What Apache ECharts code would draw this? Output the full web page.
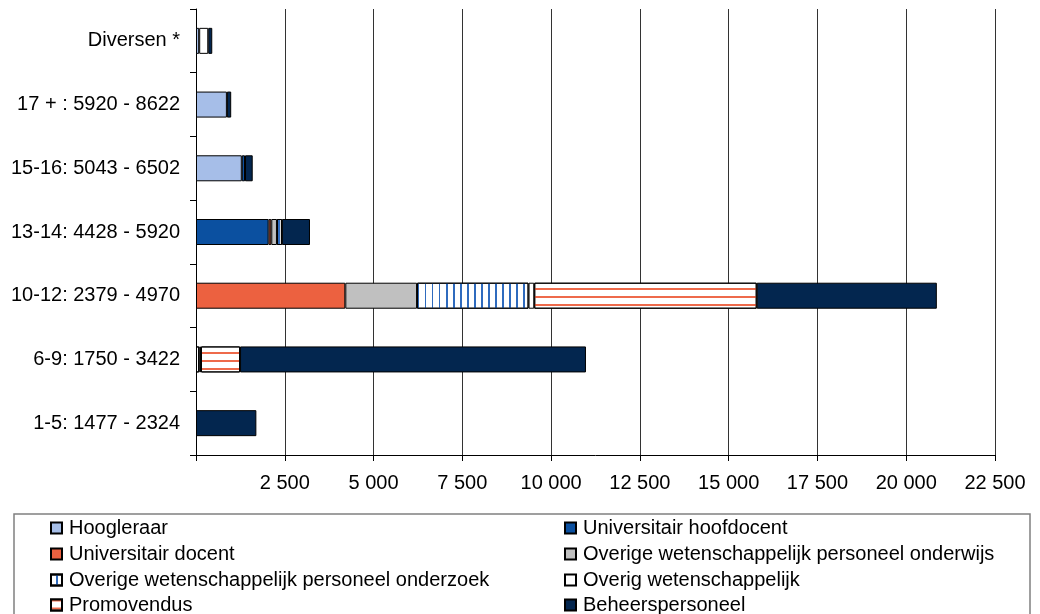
<!DOCTYPE html>
<html>
<head>
<meta charset="utf-8">
<script src="https://cdn.jsdelivr.net/npm/echarts@6/dist/echarts.min.js"></script>
<style>
html,body{margin:0;padding:0;background:#fff;}
#chart{width:1040px;height:614px;}
</style>
</head>
<body>
<div id="chart"></div>
<script>
// Categories (top to bottom as shown)
const categories = ['Diversen *', '17 + : 5920 - 8622', '15-16: 5043 - 6502', '13-14: 4428 - 5920', '10-12: 2379 - 4970', '6-9: 1750 - 3422', '1-5: 1477 - 2324'];
// Series values (same order as categories)
const hoogleraar   = [90, 870, 1290, 0, 0, 0, 0];
const hoofddocent  = [0, 0, 90, 2045, 0, 0, 0];
const docent       = [0, 0, 0, 75, 4205, 0, 0];
const onderwijs    = [0, 0, 0, 160, 2020, 0, 0];
const onderzoek    = [0, 0, 0, 140, 3140, 90, 0];
const overig       = [255, 0, 0, 0, 160, 50, 0];
const promovendus  = [0, 0, 0, 0, 6265, 1100, 0];
const beheer       = [113, 121, 217, 790, 5072, 9742, 1700];
const seriesNames = ['Hoogleraar', 'Universitair hoofdocent', 'Universitair docent', 'Overige wetenschappelijk personeel onderwijs', 'Overige wetenschappelijk personeel onderzoek', 'Overig wetenschappelijk', 'Promovendus', 'Beheerspersoneel'];
// x-axis scale
const xMin = 0, xMax = 22500, xStep = 2500;

const FONT = '"Liberation Sans", Arial, sans-serif';
const values = [hoogleraar, hoofddocent, docent, onderwijs, onderzoek, overig, promovendus, beheer];
const styles = [
  {color: '#A6BEE8'},
  {color: '#0B50A0'},
  {color: '#EC6140'},
  {color: '#C0C0C0'},
  {color: '#FFFFFF', decal: {symbol: 'rect', symbolSize: 1, color: '#2F6BBE', dashArrayX: [1, 0], dashArrayY: [2, 5], rotation: Math.PI / 2}},
  {color: '#FFFFFF'},
  {color: '#FFFFFF', decal: {symbol: 'rect', symbolSize: 1, color: '#EE6A4B', dashArrayX: [1, 0], dashArrayY: [2, 6], rotation: 0}},
  {color: '#03264F'}
];

const series = seriesNames.map((name, i) => ({
  name: name,
  type: 'bar',
  stack: 'total',
  barWidth: 26,
  data: values[i].map(v => v === 0 ? '-' : v),
  itemStyle: Object.assign({borderColor: '#000', borderWidth: 1}, styles[i]),
  emphasis: {disabled: true}
}));

function fmt(v) {
  if (v === 0) return '';
  return String(v).replace(/\B(?=(\d{3})+(?!\d))/g, ' ');
}

// legend placement: two columns, four rows
const legendCols = [50, 564];
const legendRows = [518, 544, 570, 595];
const legends = seriesNames.map((name, i) => ({
  left: legendCols[i % 2],
  top: legendRows[Math.floor(i / 2)],
  padding: 0,
  icon: 'rect',
  itemWidth: 11,
  itemHeight: 11,
  selectedMode: false,
  data: [name],
  textStyle: {fontFamily: FONT, fontSize: 20, color: '#000', lineHeight: 20, padding: [0, 0, 0, 2]}
}));

const chart = echarts.init(document.getElementById('chart'), null, {renderer: 'canvas'});
chart.setOption({
  animation: false,
  backgroundColor: '#fff',
  grid: {left: 196, right: 45, top: 9, bottom: 159, containLabel: false},
  xAxis: {
    type: 'value',
    min: xMin, max: xMax, interval: xStep,
    axisLine: {show: true, lineStyle: {color: '#000', width: 1}},
    axisTick: {show: true, length: 6, lineStyle: {color: '#000'}},
    axisLabel: {formatter: fmt, fontFamily: FONT, fontSize: 20, color: '#000', margin: 18},
    splitLine: {show: true, lineStyle: {color: '#333', width: 1}}
  },
  yAxis: {
    type: 'category',
    data: categories,
    inverse: true,
    axisLine: {show: true, lineStyle: {color: '#000', width: 1}},
    axisTick: {show: true, length: 6, alignWithLabel: false, lineStyle: {color: '#000'}},
    axisLabel: {fontFamily: FONT, fontSize: 20, color: '#000', margin: 16},
    splitLine: {show: false}
  },
  legend: legends,
  graphic: [{
    type: 'rect',
    shape: {x: 14, y: 514, width: 1016, height: 130},
    style: {fill: 'none', stroke: '#808080', lineWidth: 1.5},
    z: -1
  }],
  series: series
});
</script>
</body>
</html>
